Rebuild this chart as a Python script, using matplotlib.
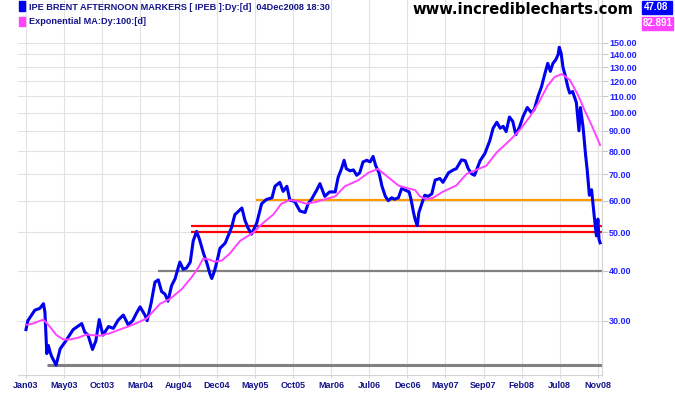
import numpy as np
import matplotlib.pyplot as plt
from matplotlib.patches import Rectangle
from matplotlib.ticker import NullLocator

plt.rcParams['font.family'] = ['Liberation Sans', 'DejaVu Sans']

# IPE Brent daily close (sampled) and its 100-day exponential MA
price_dates = [
    '2003-01-02', '2003-01-09', '2003-01-21', '2003-02-05', '2003-02-24', '2003-03-08',
    '2003-03-14', '2003-03-21', '2003-03-27', '2003-04-03', '2003-04-09', '2003-04-25',
    '2003-05-10', '2003-05-29', '2003-06-10', '2003-06-29', '2003-07-31', '2003-08-12',
    '2003-08-25', '2003-09-10', '2003-09-23', '2003-10-05', '2003-10-20', '2003-11-08',
    '2003-11-27', '2003-12-16', '2004-01-04', '2004-01-22', '2004-02-09', '2004-02-23',
    '2004-03-06', '2004-03-25', '2004-04-02', '2004-04-19', '2004-05-02', '2004-05-14',
    '2004-05-27', '2004-06-09', '2004-06-21', '2004-07-04', '2004-07-16', '2004-08-04',
    '2004-08-17', '2004-08-29', '2004-09-11', '2004-09-23', '2004-10-06', '2004-10-18',
    '2004-10-31', '2004-11-13', '2004-11-25', '2004-12-02', '2004-12-14', '2004-12-26',
    '2005-01-02', '2005-01-21', '2005-02-15', '2005-02-27', '2005-03-25', '2005-04-06',
    '2005-04-18', '2005-05-01', '2005-05-20', '2005-06-08', '2005-06-27', '2005-07-16',
    '2005-07-28', '2005-08-16', '2005-08-28', '2005-09-12', '2005-09-22', '2005-10-11',
    '2005-10-30', '2005-11-18', '2005-11-30', '2005-12-13', '2006-01-02', '2006-01-13',
    '2006-02-01', '2006-02-20', '2006-03-11', '2006-03-23', '2006-04-05', '2006-04-14',
    '2006-04-24', '2006-05-07', '2006-05-19', '2006-06-01', '2006-06-13', '2006-06-26',
    '2006-07-08', '2006-07-21', '2006-08-02', '2006-08-11', '2006-08-24', '2006-09-05',
    '2006-09-18', '2006-09-28', '2006-10-11', '2006-10-23', '2006-11-04', '2006-11-17',
    '2006-11-30', '2006-12-15', '2006-12-22', '2007-01-02', '2007-01-08', '2007-01-16',
    '2007-01-22', '2007-02-01', '2007-02-13', '2007-02-26', '2007-03-10', '2007-03-23',
    '2007-04-11', '2007-04-23', '2007-05-12', '2007-05-31', '2007-06-12', '2007-07-01',
    '2007-07-14', '2007-07-26', '2007-08-08', '2007-08-20', '2007-09-08', '2007-09-27',
    '2007-10-16', '2007-10-28', '2007-11-10', '2007-11-23', '2007-12-05', '2007-12-15',
    '2007-12-28', '2008-01-10', '2008-01-22', '2008-02-05', '2008-02-19', '2008-03-05',
    '2008-03-20', '2008-04-01', '2008-04-15', '2008-04-28', '2008-05-08', '2008-05-21',
    '2008-05-30', '2008-06-10', '2008-06-20', '2008-06-30', '2008-07-03', '2008-07-10',
    '2008-07-17', '2008-07-25', '2008-08-05', '2008-08-12', '2008-08-22', '2008-09-05',
    '2008-09-16', '2008-09-22', '2008-10-01', '2008-10-10', '2008-10-16', '2008-10-24',
    '2008-11-03', '2008-11-12', '2008-11-20', '2008-11-26', '2008-12-01', '2008-12-04',
]
price_values = [
    28.5, 30.0, 30.8, 31.9, 32.2, 33.1,
    31.5, 24.8, 26.0, 25.0, 24.4, 23.2,
    25.5, 26.5, 27.2, 28.5, 29.5, 28.1,
    27.6, 25.4, 26.7, 30.2, 27.6, 29.0,
    28.7, 30.1, 31.0, 29.3, 30.0, 31.3,
    32.5, 31.0, 30.0, 33.3, 37.5, 38.0,
    35.5, 35.0, 33.6, 36.8, 38.2, 42.1,
    40.4, 40.7, 42.1, 47.6, 50.3, 48.0,
    44.5, 41.8, 39.3, 38.3, 40.2, 43.5,
    45.6, 47.0, 51.4, 55.4, 57.6, 53.7,
    51.4, 49.5, 52.8, 59.0, 60.5, 61.1,
    65.3, 66.8, 63.4, 65.3, 60.3, 59.8,
    56.6, 56.1, 59.0, 60.5, 63.8, 66.3,
    61.6, 63.2, 63.2, 68.8, 72.3, 75.9,
    72.3, 71.4, 71.8, 69.6, 70.6, 75.2,
    75.9, 75.2, 77.6, 73.6, 70.6, 65.3,
    61.6, 60.1, 61.1, 60.6, 61.1, 64.5,
    63.9, 63.2, 60.6, 56.0, 54.0, 52.0,
    56.0, 59.0, 62.0, 61.6, 62.5, 67.7,
    68.3, 66.8, 70.6, 71.8, 72.3, 76.1,
    75.7, 72.3, 70.2, 69.6, 75.7, 79.0,
    85.0, 91.4, 94.6, 91.4, 92.4, 89.6,
    97.5, 95.0, 88.0, 92.0, 98.0, 103.0,
    100.0, 102.0, 110.0, 116.0, 124.0, 133.0,
    127.0, 133.0, 136.0, 140.0, 146.0, 141.0,
    130.0, 124.0, 116.0, 112.0, 113.0, 106.0,
    90.0, 103.0, 92.0, 78.0, 72.0, 62.0,
    64.0, 55.0, 49.0, 54.0, 48.0, 47.08,
]

ema_dates = [
    '2003-01-06', '2003-01-28', '2003-03-08', '2003-04-02', '2003-04-28', '2003-05-23',
    '2003-06-17', '2003-07-18', '2003-08-19', '2003-09-06', '2003-10-08', '2003-11-14',
    '2003-12-22', '2004-01-22', '2004-02-24', '2004-04-01', '2004-05-21', '2004-06-27',
    '2004-08-11', '2004-09-17', '2004-10-12', '2004-10-31', '2004-11-19', '2004-12-14',
    '2005-01-08', '2005-02-08', '2005-03-18', '2005-05-07', '2005-06-14', '2005-07-22',
    '2005-08-22', '2005-09-22', '2005-10-24', '2005-11-24', '2006-01-02', '2006-03-11',
    '2006-04-18', '2006-06-07', '2006-07-14', '2006-08-21', '2006-09-28', '2006-11-04',
    '2006-12-12', '2007-01-06', '2007-01-25', '2007-02-19', '2007-03-16', '2007-04-23',
    '2007-06-12', '2007-07-20', '2007-08-27', '2007-10-03', '2007-11-10', '2007-12-30',
    '2008-02-06', '2008-03-15', '2008-04-21', '2008-05-21', '2008-06-17', '2008-07-13',
    '2008-08-12', '2008-09-11', '2008-10-08', '2008-11-03', '2008-12-04',
]
ema_values = [
    29.3, 29.5, 30.2, 29.0, 27.6, 26.9,
    26.9, 27.2, 27.7, 27.6, 27.5, 27.9,
    28.5, 29.0, 29.6, 30.4, 33.1, 34.0,
    36.0, 38.6, 40.7, 43.0, 42.8, 42.2,
    42.5, 44.2, 47.6, 50.0, 52.8, 55.5,
    59.0, 60.3, 59.9, 59.0, 59.7, 61.6,
    65.3, 67.6, 70.6, 72.2, 68.8, 65.6,
    64.5, 63.9, 61.6, 60.6, 61.1, 63.3,
    65.6, 70.2, 71.8, 73.6, 79.5, 85.2,
    90.5, 98.0, 107.0, 117.0, 123.0, 125.0,
    121.0, 111.0, 101.0, 93.0, 82.891,
]

# support / resistance lines drawn on the chart
level_values = [23.2, 40.0, 50.0, 52.0, 60.3]
level_starts = ['2003-03-21', '2004-05-13', '2004-09-14', '2004-09-14', '2005-05-17']
level_colors = ['#808080', '#808080', '#ff0000', '#ff0000', '#ff9900']
level_widths = [2.2, 1.6, 1.6, 1.6, 1.6]

y_ticks = [30, 40, 50, 60, 70, 80, 90, 100, 110, 120, 130, 140, 150]
x_labels = ['Jan03', 'May03', 'Oct03', 'Mar04', 'Aug04', 'Dec04', 'May05', 'Oct05',
            'Mar06', 'Jul06', 'Dec06', 'May07', 'Sep07', 'Feb08', 'Jul08', 'Nov08']

START = '2003-01-02'
TICK_STEP = 102.6  # trading days between date labels


def tday(dates):
    # x axis is in trading days, like the original charting package
    return np.busday_count(START, np.array(dates, dtype='datetime64[D]'))


W, H = 675, 395
fig = plt.figure(figsize=(W / 100, H / 100), dpi=100)
ax = fig.add_axes([18 / W, 20 / H, 584 / W, 375 / H])

x_end = tday(price_dates[-1:])[0]
for lvl, start, col, lw in zip(level_values, level_starts, level_colors, level_widths):
    ax.hlines(lvl, tday([start])[0], x_end + 4, color=col, lw=lw, zorder=1.5)

ax.plot(tday(price_dates), price_values, color='#0000f0', lw=2.2, zorder=2)
ax.plot(tday(ema_dates), ema_values, color='#ff44ff', lw=1.4, zorder=2.5)

ax.set_yscale('log')
ax.set_ylim(21.91, 191.9)
ax.set_xlim(-21.5, 1550)

ax.yaxis.tick_right()
ax.set_yticks(y_ticks)
ax.set_yticklabels([f'{v:.2f}' for v in y_ticks])
ax.yaxis.set_minor_locator(NullLocator())
ax.set_xticks(np.arange(len(x_labels)) * TICK_STEP)
ax.set_xticklabels(x_labels)

ax.tick_params(axis='y', colors='#c8c8c8', labelcolor='#2222ff', labelsize=6.5,
               length=4, width=0.8, pad=1)
ax.tick_params(axis='x', colors='#d8d8d8', labelcolor='#14148a', labelsize=6.5,
               length=2, width=0.8, pad=2.5)
for lbl in ax.get_yticklabels() + ax.get_xticklabels():
    lbl.set_fontweight('bold')

ax.grid(True, color='#e2e2e2', lw=0.8, zorder=0)
ax.set_axisbelow(True)
for side in ['left', 'top']:
    ax.spines[side].set_visible(False)
for side in ['right', 'bottom']:
    ax.spines[side].set_color('#d4d4d4')
    ax.spines[side].set_linewidth(0.8)

# header: legend swatches, watermark, last values
def px(x, y):
    return x / W, 1 - y / H

fig.patches.append(Rectangle(px(18.5, 10.5), 6.5 / W, 9 / H, transform=fig.transFigure,
                             color='#0000f0'))
fig.patches.append(Rectangle(px(18.5, 26), 6.5 / W, 9 / H, transform=fig.transFigure,
                             color='#ff44ff'))
fig.text(*px(29, 7), 'IPE BRENT AFTERNOON MARKERS [ IPEB ]:Dy:[d]  04Dec2008 18:30',
         color='#14148a', fontsize=6.6, fontweight='bold', va='center', ha='left')
fig.text(*px(29, 21.5), 'Exponential MA:Dy:100:[d]',
         color='#14148a', fontsize=6.6, fontweight='bold', va='center', ha='left')
fig.text(*px(633, 9), 'www.incrediblecharts.com', family='DejaVu Sans',
         color='black', fontsize=10.6, fontweight='bold', va='center', ha='right')

fig.patches.append(Rectangle(px(642, 14), 30 / W, 13 / H, transform=fig.transFigure,
                             color='#0000ff'))
fig.patches.append(Rectangle(px(642, 30), 31 / W, 13.5 / H, transform=fig.transFigure,
                             color='#ff44ff'))
fig.text(*px(656, 7.5), f'{price_values[-1]:.2f}', color='white', fontsize=7,
         fontweight='bold', va='center', ha='center')
fig.text(*px(658, 23), f'{ema_values[-1]:.3f}', color='white', fontsize=7,
         fontweight='bold', va='center', ha='center')

fig.savefig('out.png', dpi=100)
